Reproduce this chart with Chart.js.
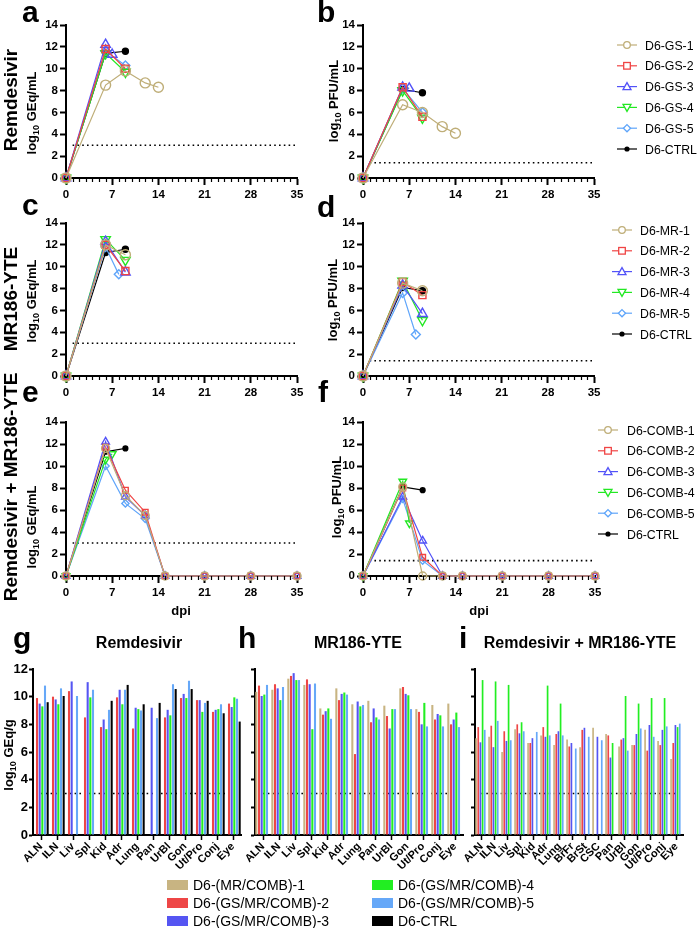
<!DOCTYPE html>
<html>
<head>
<meta charset="utf-8">
<title>Viral load and tissue panels</title>
<script src="https://cdn.jsdelivr.net/npm/chart.js@4.4.1/dist/chart.umd.min.js"></script>
<style>
  body { margin: 0; background: #fff; }
  #fig { position: relative; width: 697px; height: 928px; overflow: hidden; font-family: "Liberation Sans", Arial, sans-serif; }
  #fig canvas { position: absolute; }
  #txt { position: absolute; left: 0; top: 0; }
  .big { font-weight: bold; font-size: 30px; }
  .row { font-weight: bold; font-size: 19px; }
  .ax { font-weight: bold; font-size: 13px; }
  .ttl { font-weight: bold; font-size: 16px; }
  .leg { font-size: 12.3px; }
  .bleg { font-size: 14px; }
</style>
</head>
<body>
<div id="fig">
  <canvas id="chartA"></canvas>
  <canvas id="chartB"></canvas>
  <canvas id="chartC"></canvas>
  <canvas id="chartD"></canvas>
  <canvas id="chartE"></canvas>
  <canvas id="chartF"></canvas>
  <canvas id="chartG"></canvas>
  <canvas id="chartH"></canvas>
  <canvas id="chartI"></canvas>
  <svg id="txt" width="697" height="928">
    <g class="big">
      <text x="22" y="22">a</text>
      <text x="317" y="22">b</text>
      <text x="22" y="215">c</text>
      <text x="317" y="217">d</text>
      <text x="22" y="402">e</text>
      <text x="318" y="402">f</text>
      <text x="13" y="648">g</text>
      <text x="238" y="648">h</text>
      <text x="459" y="648">i</text>
    </g>
    <g class="row" text-anchor="middle">
      <text transform="translate(17,100) rotate(-90)">Remdesivir</text>
      <text transform="translate(17,299) rotate(-90)">MR186-YTE</text>
      <text transform="translate(17,487) rotate(-90)">Remdesivir + MR186-YTE</text>
    </g>
    <g class="ax" text-anchor="middle">
      <text transform="translate(36,113) rotate(-90)">log<tspan font-size="9" dy="3">10</tspan><tspan dy="-3"> GEq/mL</tspan></text>
      <text transform="translate(338,101) rotate(-90)">log<tspan font-size="9" dy="3">10</tspan><tspan dy="-3"> PFU/mL</tspan></text>
      <text transform="translate(36,301) rotate(-90)">log<tspan font-size="9" dy="3">10</tspan><tspan dy="-3"> GEq/mL</tspan></text>
      <text transform="translate(337,300) rotate(-90)">log<tspan font-size="9" dy="3">10</tspan><tspan dy="-3"> PFU/mL</tspan></text>
      <text transform="translate(36,527) rotate(-90)">log<tspan font-size="9" dy="3">10</tspan><tspan dy="-3"> GEq/mL</tspan></text>
      <text transform="translate(341,497) rotate(-90)">log<tspan font-size="9" dy="3">10</tspan><tspan dy="-3"> PFU/mL</tspan></text>
      <text transform="translate(13,755) rotate(-90)">log<tspan font-size="9" dy="3">10</tspan><tspan dy="-3"> GEq/g</tspan></text>
      <text x="181" y="615">dpi</text>
      <text x="479" y="615">dpi</text>
    </g>
    <g class="ttl" text-anchor="middle">
      <text x="139" y="648">Remdesivir</text>
      <text x="358" y="648">MR186-YTE</text>
      <text x="580" y="648">Remdesivir + MR186-YTE</text>
    </g>
    <g id="legends"></g>
  </svg>
</div>
<script>
// ---- line panels a-f: [dpi, log10 value] ----
// a: Remdesivir, GEq/mL
const aGS1 = [[0, 0], [6, 8.5], [9, 9.8], [12, 8.7], [14, 8.3]];
const aGS2 = [[0, 0], [6, 11.8], [9, 10.0]];
const aGS3 = [[0, 0], [6, 12.2], [7, 11.3]];
const aGS4 = [[0, 0], [6, 11.4], [9, 9.7]];
const aGS5 = [[0, 0], [6, 11.6], [9, 10.3]];
const aCTRL = [[0, 0], [6, 11.4], [9, 11.6]];
// b: Remdesivir, PFU/mL
const bGS1 = [[0, 0], [6, 6.7], [9, 6.0], [12, 4.7], [14, 4.1]];
const bGS2 = [[0, 0], [6, 8.3], [9, 5.6]];
const bGS3 = [[0, 0], [6, 8.3], [7, 8.2]];
const bGS4 = [[0, 0], [6, 8.0], [9, 5.5]];
const bGS5 = [[0, 0], [6, 8.2], [9, 6.0]];
const bCTRL = [[0, 0], [6, 8.1], [9, 7.8]];
// c: MR186-YTE, GEq/mL
const cMR1 = [[0, 0], [6, 12.0], [9, 11.1]];
const cMR2 = [[0, 0], [6, 12.0], [9, 9.6]];
const cMR3 = [[0, 0], [6, 12.3], [9, 9.5]];
const cMR4 = [[0, 0], [6, 12.5], [9, 10.6]];
const cMR5 = [[0, 0], [6, 11.8], [8, 9.3]];
const cCTRL = [[0, 0], [6, 11.3], [9, 11.6]];
// d: MR186-YTE, PFU/mL
const dMR1 = [[0, 0], [6, 8.5], [9, 7.8]];
const dMR2 = [[0, 0], [6, 8.6], [9, 7.4]];
const dMR3 = [[0, 0], [6, 8.3], [9, 5.7]];
const dMR4 = [[0, 0], [6, 8.7], [9, 5.1]];
const dMR5 = [[0, 0], [6, 7.6], [8, 3.8]];
const dCTRL = [[0, 0], [6, 8.1], [9, 7.8]];
// e: combination, GEq/mL
const eCOMB1 = [[0, 0], [6, 11.6], [9, 7.3], [12, 5.5], [15, 0], [21, 0], [28, 0], [35, 0]];
const eCOMB2 = [[0, 0], [6, 11.7], [9, 7.8], [12, 5.8], [15, 0], [21, 0], [28, 0], [35, 0]];
const eCOMB3 = [[0, 0], [6, 12.2], [9, 7.2], [12, 5.5], [15, 0], [21, 0], [28, 0], [35, 0]];
const eCOMB4 = [[0, 0], [6, 10.6], [7, 11.1]];
const eCOMB5 = [[0, 0], [6, 10.0], [9, 6.6], [12, 5.2], [15, 0], [21, 0], [28, 0], [35, 0]];
const eCTRL = [[0, 0], [6, 11.3], [9, 11.6]];
// f: combination, PFU/mL
const fCOMB1 = [[0, 0], [6, 8.1], [9, 0], [12, 0], [15, 0], [21, 0], [28, 0], [35, 0]];
const fCOMB2 = [[0, 0], [6, 8.0], [9, 1.7], [12, 0], [15, 0], [21, 0], [28, 0], [35, 0]];
const fCOMB3 = [[0, 0], [6, 7.2], [9, 3.2], [12, 0], [15, 0], [21, 0], [28, 0], [35, 0]];
const fCOMB4 = [[0, 0], [6, 8.6], [7, 4.8]];
const fCOMB5 = [[0, 0], [6, 7.0], [9, 1.4], [12, 0], [15, 0], [21, 0], [28, 0], [35, 0]];
const fCTRL = [[0, 0], [6, 8.1], [9, 7.8]];

const gsNames = ['D6-GS-1', 'D6-GS-2', 'D6-GS-3', 'D6-GS-4', 'D6-GS-5', 'D6-CTRL'];
const mrNames = ['D6-MR-1', 'D6-MR-2', 'D6-MR-3', 'D6-MR-4', 'D6-MR-5', 'D6-CTRL'];
const combNames = ['D6-COMB-1', 'D6-COMB-2', 'D6-COMB-3', 'D6-COMB-4', 'D6-COMB-5', 'D6-CTRL'];

const lodGEq = 3;     // dotted limit line, GEq panels
const lodPFU = 1.4;   // dotted limit line, PFU panels

// ---- tissue panels g-i: log10 GEq/g ----
const tissuesG = ['ALN', 'ILN', 'Liv', 'Spl', 'Kid', 'Adr', 'Lung', 'Pan', 'UrBl', 'Gon', 'Ut/Pro', 'Conj', 'Eye'];
const gRed = [9.9, 10.0, 10.4, 8.5, 7.8, 9.95, 7.7, null, 8.5, 9.9, 9.75, 8.9, 9.5];
const gBlue = [9.5, 9.8, 11.1, 11.05, 8.35, 10.5, 9.2, 9.2, 9.05, 10.2, 9.75, 9.05, 9.25];
const gGreen = [9.3, 9.45, null, 9.95, 7.65, 9.45, 9.1, null, 8.65, 9.9, 8.9, 9.1, 9.95];
const gLtBlue = [10.8, 10.6, 10.05, 10.5, 9.05, 10.5, 9.0, 8.45, 10.9, 11.15, 9.55, 9.45, 9.85];
const gBlack = [9.6, 10.05, null, null, 9.7, 10.85, 9.45, 9.55, 10.55, 10.55, 9.7, 8.8, 8.2];

const tissuesH = ['ALN', 'ILN', 'Liv', 'Spl', 'Kid', 'Adr', 'Lung', 'Pan', 'UrBl', 'Gon', 'Ut/Pro', 'Conj', 'Eye'];
const hTan = [10.35, 10.5, 11.3, 10.85, 9.15, 10.6, 9.45, 9.7, 9.35, 10.6, 9.1, 9.4, 9.5];
const hRed = [10.8, 10.9, 11.5, 11.25, 8.7, 9.75, 5.85, 8.15, 8.6, 10.7, 8.9, 8.35, 8.0];
const hBlue = [10.05, 10.6, 11.7, 10.9, 8.95, 10.2, 9.65, 9.15, 7.7, 10.2, 8.0, 8.75, 8.35];
const hGreen = [10.15, 9.75, 11.2, 7.65, 9.15, 10.3, 9.3, 8.5, 9.1, 10.1, 9.55, 8.65, 8.85];
const hLtBlue = [10.85, 10.7, 11.2, 10.95, 8.4, 10.15, 9.4, 8.35, 9.1, 9.1, 7.85, 7.85, 7.8];

const tissuesI = ['ALN', 'ILN', 'Liv', 'Spl', 'Kid', 'Adr', 'Lung', 'BrFr', 'BrSt', 'CSC', 'Pan', 'UrBl', 'Gon', 'Ut/Pro', 'Conj', 'Eye'];
const iTan = [7.0, 7.1, 6.0, 7.65, 6.65, 7.2, 6.5, 6.9, 6.35, 7.75, 7.3, 6.4, 6.5, 7.6, 6.8, 5.5];
const iRed = [7.8, 7.9, 7.5, 8.0, 6.65, 7.8, 7.3, 6.4, 7.6, null, 7.2, 6.9, 6.5, 6.1, 6.5, 6.65];
const iBlue = [6.7, 6.35, 6.8, 7.35, 7.0, 7.1, 7.5, 6.65, 7.75, 7.1, 5.6, 7.0, 7.3, 7.95, 7.6, 7.95];
const iGreen = [11.2, 11.1, 10.85, 8.15, null, 10.8, 9.5, null, null, null, 6.65, 10.05, 9.5, 9.9, 9.9, 7.8];
const iLtBlue = [7.6, 8.25, 6.85, 7.5, 7.45, 7.2, 7.2, 6.25, 7.1, 6.85, null, 6.1, 7.7, 7.1, 7.85, 8.05];

const barNames = ['D6-(MR/COMB)-1', 'D6-(GS/MR/COMB)-2', 'D6-(GS/MR/COMB)-3',
    'D6-(GS/MR/COMB)-4', 'D6-(GS/MR/COMB)-5', 'D6-CTRL'];

// ---- styles ----
const FONT = "'Liberation Sans', Arial, sans-serif";
const lineColors = ['#BFAE78', '#F04444', '#5252F8', '#22E822', '#5FA5FA', '#000000'];
const barColors = ['#C8B482', '#EE4646', '#5555F2', '#22EE22', '#66A8F8', '#000000'];
const markerStyles = [
    { style: 'circle', rot: 0, r: 5 },
    { style: 'rect', rot: 0, r: 5 },
    { style: 'triangle', rot: 0, r: 5.5 },
    { style: 'triangle', rot: 180, r: 5.5 },
    { style: 'rectRot', rot: 0, r: 4.5 },
    { style: 'circle', rot: 0, r: 3, fill: true }
];

Chart.defaults.font.family = FONT;
Chart.defaults.color = '#000';

/* Small day ticks under the dpi axis */
const minorTicks = {
    id: 'minorTicks',
    afterDraw(chart) {
        const { ctx, scales: { x }, chartArea } = chart;
        ctx.save();
        ctx.strokeStyle = '#000';
        ctx.lineWidth = 1.2;
        for (let d = 0; d <= 35; d++) {
            if (d % 7 === 0) continue;
            const px = Math.round(x.getPixelForValue(d)) + 0.5;
            ctx.beginPath();
            ctx.moveTo(px, chartArea.bottom);
            ctx.lineTo(px, chartArea.bottom + 4);
            ctx.stroke();
        }
        ctx.restore();
    }
};

const placeCanvas = (id, box) => {
    const cv = document.getElementById(id);
    cv.width = box.w;
    cv.height = box.h;
    cv.style.left = box.x + 'px';
    cv.style.top = box.y + 'px';
    return cv;
};

/* Builds one dpi line panel; area is the plot rectangle in page pixels */
const buildLine = (id, box, area, series, lod, small) => {
    const cv = placeCanvas(id, box);
    const datasets = series.map((s, i) => {
        const m = markerStyles[i];
        return {
            data: s.map(p => ({ x: p[0], y: p[1] })),
            borderColor: lineColors[i],
            backgroundColor: lineColors[i],
            borderWidth: 1.2,
            pointStyle: m.style,
            pointRotation: m.rot,
            pointRadius: small ? m.r * 0.8 : m.r,
            pointBorderWidth: 1.4,
            pointBorderColor: lineColors[i],
            pointBackgroundColor: m.fill ? lineColors[i] : 'rgba(255,255,255,0)',
            clip: false,
            tension: 0
        };
    });
    datasets.push({
        data: [{ x: 1, y: lod }, { x: 35, y: lod }],
        borderColor: '#000', borderWidth: 1.6, borderDash: [1.6, 3.2],
        pointRadius: 0, clip: false
    });

    new Chart(cv, {
        type: 'line',
        data: { datasets },
        options: {
            responsive: false, animation: false, devicePixelRatio: 1,
            layout: { padding: { top: area.top - box.y, right: box.x + box.w - area.right, left: 0, bottom: 0 } },
            plugins: { legend: { display: false }, tooltip: { enabled: false } },
            scales: {
                x: {
                    type: 'linear', min: 0, max: 35,
                    afterFit: s => { s.height = box.y + box.h - area.bottom; s.paddingLeft = 0; s.paddingRight = 0; },
                    ticks: { stepSize: 7, maxRotation: 0, padding: 3, color: '#000', font: { size: 11.5, weight: 'bold' } },
                    grid: { drawOnChartArea: false, tickLength: 7, tickWidth: 2, tickColor: '#000' },
                    border: { color: '#000', width: 2 }
                },
                y: {
                    min: 0, max: 14,
                    afterFit: s => { s.width = area.left - box.x; s.paddingTop = 0; s.paddingBottom = 0; },
                    ticks: { stepSize: 2, padding: 2, color: '#000', font: { size: 11.5, weight: 'bold' } },
                    grid: { drawOnChartArea: false, tickLength: 6, tickWidth: 2, tickColor: '#000' },
                    border: { color: '#000', width: 2 }
                }
            }
        },
        plugins: [minorTicks]
    });
};

/* Builds one tissue bar panel */
const buildBar = (id, box, area, cats, sets, showLabels) => {
    const cv = placeCanvas(id, box);
    const datasets = sets.map((vals, i) => ({
        type: 'bar',
        label: barNames[i],
        data: vals,
        backgroundColor: barColors[i],
        borderWidth: 0,
        categoryPercentage: 1.0,
        barPercentage: 0.78,
        order: 1
    }));
    datasets.push({
        type: 'line',
        data: cats.map(() => lodGEq),
        borderColor: '#000', borderWidth: 1.6, borderDash: [1.6, 3.2],
        pointRadius: 0, order: 10
    });

    new Chart(cv, {
        type: 'bar',
        data: { labels: cats, datasets },
        options: {
            responsive: false, animation: false, devicePixelRatio: 1,
            layout: { padding: { top: area.top - box.y, right: box.x + box.w - area.right, left: 0, bottom: 0 } },
            plugins: { legend: { display: false }, tooltip: { enabled: false } },
            scales: {
                x: {
                    offset: true,
                    afterFit: s => { s.height = box.y + box.h - area.bottom; s.paddingLeft = 0; s.paddingRight = 0; },
                    ticks: { autoSkip: false, minRotation: 45, maxRotation: 45, padding: 0, color: '#000', font: { size: 11, weight: 'bold' } },
                    grid: { offset: false, drawOnChartArea: false, tickLength: 5, tickWidth: 1.5, tickColor: '#000' },
                    border: { color: '#000', width: 2 }
                },
                y: {
                    min: 0, max: 12,
                    afterFit: s => { s.width = area.left - box.x; s.paddingTop = 0; s.paddingBottom = 0; },
                    ticks: {
                        stepSize: 2, padding: 1, color: '#000', font: { size: 13, weight: 'bold' },
                        callback: v => showLabels ? v : ''
                    },
                    grid: { drawOnChartArea: false, tickLength: 4, tickWidth: 2, tickColor: '#000' },
                    border: { color: '#000', width: 2 }
                }
            }
        }
    });
};

/* Small svg legend marker for the line panels */
const markerSvg = (i, cx, cy) => {
    const c = lineColors[i];
    const st = `fill="#fff" stroke="${c}" stroke-width="1.3"`;
    switch (i) {
        case 0: return `<circle cx="${cx}" cy="${cy}" r="3.3" ${st}/>`;
        case 1: return `<rect x="${cx - 3.3}" y="${cy - 3.3}" width="6.6" height="6.6" ${st}/>`;
        case 2: return `<polygon points="${cx},${cy - 4} ${cx + 4},${cy + 3} ${cx - 4},${cy + 3}" ${st}/>`;
        case 3: return `<polygon points="${cx},${cy + 4} ${cx + 4},${cy - 3} ${cx - 4},${cy - 3}" ${st}/>`;
        case 4: return `<polygon points="${cx},${cy - 3.6} ${cx + 3.6},${cy} ${cx},${cy + 3.6} ${cx - 3.6},${cy}" ${st}/>`;
        default: return `<circle cx="${cx}" cy="${cy}" r="2.6" fill="${c}"/>`;
    }
};

const lineLegend = (names, mx, tx, y0, dy) => names.map((n, i) => {
    const y = y0 + i * dy;
    return `<line x1="${mx - 10}" y1="${y}" x2="${mx + 10}" y2="${y}" stroke="${lineColors[i]}" stroke-width="1.2"/>` +
        markerSvg(i, mx, y) +
        `<text class="leg" x="${tx}" y="${y + 4.5}">${n}</text>`;
}).join('');

const barLegend = () => barNames.map((n, i) => {
    const col = Math.floor(i / 3), row = i % 3;
    const bx = col === 0 ? 167 : 372;
    const y = 885 + row * 18;
    return `<rect x="${bx}" y="${y - 5}" width="21" height="10" fill="${barColors[i]}"/>` +
        `<text class="bleg" x="${bx + 26}" y="${y + 5}">${n}</text>`;
}).join('');

const init = () => {
    buildLine('chartA', { x: 36, y: 14, w: 268, h: 196 }, { left: 66, right: 297, top: 25, bottom: 178 },
        [aGS1, aGS2, aGS3, aGS4, aGS5, aCTRL], lodGEq, false);
    buildLine('chartB', { x: 333, y: 14, w: 268, h: 196 }, { left: 363, right: 595, top: 25, bottom: 178 },
        [bGS1, bGS2, bGS3, bGS4, bGS5, bCTRL], lodPFU, false);
    buildLine('chartC', { x: 36, y: 212, w: 268, h: 196 }, { left: 66, right: 297, top: 223, bottom: 376 },
        [cMR1, cMR2, cMR3, cMR4, cMR5, cCTRL], lodGEq, false);
    buildLine('chartD', { x: 333, y: 212, w: 268, h: 196 }, { left: 363, right: 595, top: 223, bottom: 376 },
        [dMR1, dMR2, dMR3, dMR4, dMR5, dCTRL], lodPFU, false);
    buildLine('chartE', { x: 36, y: 411, w: 268, h: 196 }, { left: 66, right: 297, top: 422, bottom: 576 },
        [eCOMB1, eCOMB2, eCOMB3, eCOMB4, eCOMB5, eCTRL], lodGEq, true);
    buildLine('chartF', { x: 333, y: 411, w: 268, h: 196 }, { left: 363, right: 595, top: 422, bottom: 576 },
        [fCOMB1, fCOMB2, fCOMB3, fCOMB4, fCOMB5, fCTRL], lodPFU, true);

    const none = tissuesG.map(() => null);
    buildBar('chartG', { x: 0, y: 655, w: 246, h: 225 }, { left: 33, right: 241, top: 669, bottom: 835 },
        tissuesG, [none, gRed, gBlue, gGreen, gLtBlue, gBlack], true);
    buildBar('chartH', { x: 235, y: 655, w: 232, h: 225 }, { left: 255, right: 463, top: 669, bottom: 835 },
        tissuesH, [hTan, hRed, hBlue, hGreen, hLtBlue, tissuesH.map(() => null)], false);
    buildBar('chartI', { x: 455, y: 655, w: 240, h: 225 }, { left: 475, right: 683, top: 669, bottom: 835 },
        tissuesI, [iTan, iRed, iBlue, iGreen, iLtBlue, tissuesI.map(() => null)], false);

    document.getElementById('legends').innerHTML =
        lineLegend(gsNames, 627, 645, 45, 20.8) +
        lineLegend(mrNames, 622, 640, 230, 20.8) +
        lineLegend(combNames, 608, 627, 430, 20.8) +
        barLegend();
};

document.addEventListener('DOMContentLoaded', () => {
    init();
});
</script>
</body>
</html>
